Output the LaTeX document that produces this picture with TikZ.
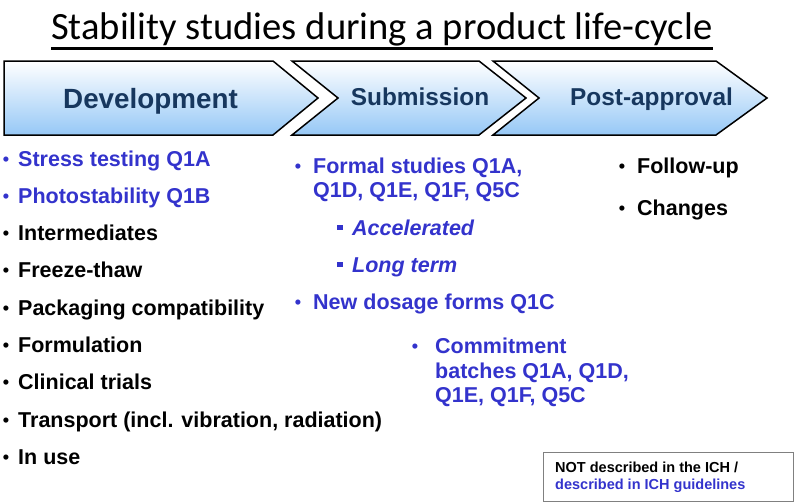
\documentclass[tikz,border=0pt]{standalone}
\usepackage{fontspec}
\setmainfont{Liberation Sans}
\newfontfamily\titlefont{Carlito}
\definecolor{ichblue}{RGB}{51,51,204}
\definecolor{navy}{RGB}{23,55,94}
\definecolor{chevblue}{RGB}{150,200,246}
\definecolor{boxgray}{RGB}{128,128,128}
\newcommand\bulx[1]{\llap{\raisebox{1pt}{\fontsize{18}{18}\selectfont •}\hspace{#1}}}
\newcommand\sqbul{\llap{\raisebox{5pt}{\rule{5.5pt}{5.5pt}}\hspace{9.5pt}}}
\begin{document}
\begin{tikzpicture}[x=1pt,y=-1pt,
  chev/.style={draw=black, line width=1.5pt, line join=miter, top color=white, bottom color=chevblue},
  chevbig/.style={font=\bfseries\fontsize{27.8}{32}\selectfont, text=navy, inner sep=0, anchor=base},
  chevtext/.style={font=\bfseries\fontsize{24.4}{28}\selectfont, text=navy, inner sep=0, anchor=base},
  item/.style={font=\bfseries\fontsize{21.5}{25}\selectfont, inner sep=0, anchor=base west},
  ich/.style={item, text=ichblue},
  legtext/.style={font=\bfseries\fontsize{14.5}{16}\selectfont, inner sep=0, anchor=base west}]
\useasboundingbox (0,0) rectangle (799,503);

% title
\node[font=\titlefont\fontsize{38.6}{44}\selectfont, anchor=base west, inner sep=0] (title) at (51,40) {Stability studies during a product life-cycle};
\draw[line width=2.2pt] ([yshift=-8.5pt]title.base west) -- ([yshift=-8.5pt]title.base east);

% chevrons
\path[chev] (4,61) -- (273,61) -- (318,98) -- (273,135) -- (4,135) -- cycle;
\path[chev] (292,61) -- (479,61) -- (526,98) -- (479,135) -- (292,135) -- (338,98) -- cycle;
\path[chev] (493,61) -- (716,61) -- (767,98) -- (716,135) -- (493,135) -- (539,98) -- cycle;
\node[chevbig] (dev) at (150.5,108) {Development};
\node[chevtext] (sub) at (420,105.5) {Submission};
\node[chevtext] (post) at (651.5,105.5) {Post-approval};

% development column
\node[ich]  (d1) at (18,166) {\bulx{9pt}Stress testing Q1A};
\node[ich]  (d2) at (18,203) {\bulx{9pt}Photostability Q1B};
\node[item] (d3) at (18,240) {\bulx{9pt}Intermediates};
\node[item] (d4) at (18,277) {\bulx{9pt}Freeze-thaw};
\node[item] (d5) at (18,315) {\bulx{9pt}Packaging compatibility};
\node[item] (d6) at (18,352) {\bulx{9pt}Formulation};
\node[item] (d7) at (18,389) {\bulx{9pt}Clinical trials};
\node[item] (d8) at (18,427) {\bulx{9pt}Transport (incl. vibration, radiation)};
\node[item] (d9) at (18,464) {\bulx{9pt}In use};

% submission column
\node[ich] (s1) at (313,173) {\bulx{12pt}Formal studies Q1A,};
\node[ich] (s2) at (313,197) {Q1D, Q1E, Q1F, Q5C};
\node[ich] (s3) at (352,235) {\sqbul\itshape Accelerated};
\node[ich] (s4) at (352,272) {\sqbul\itshape Long term};
\node[ich] (s5) at (313,309) {\bulx{12pt}New dosage forms Q1C};
\node[ich] (s6) at (435,353) {\bulx{17pt}Commitment};
\node[ich] (s7) at (435,378) {batches Q1A, Q1D,};
\node[ich] (s8) at (435,402) {Q1E, Q1F, Q5C};

% post-approval column
\node[item] (p1) at (637,173) {\bulx{12pt}Follow-up};
\node[item] (p2) at (637,215) {\bulx{12pt}Changes};

% legend
\node[draw=boxgray, line width=1.2pt, minimum width=250pt, minimum height=49pt, anchor=north west, inner sep=0] (legend) at (543,452) {};
\node[legtext] (lg1) at (555,472) {NOT described in the ICH /};
\node[legtext, text=ichblue] (lg2) at (555,489) {described in ICH guidelines};
\end{tikzpicture}
\end{document}
